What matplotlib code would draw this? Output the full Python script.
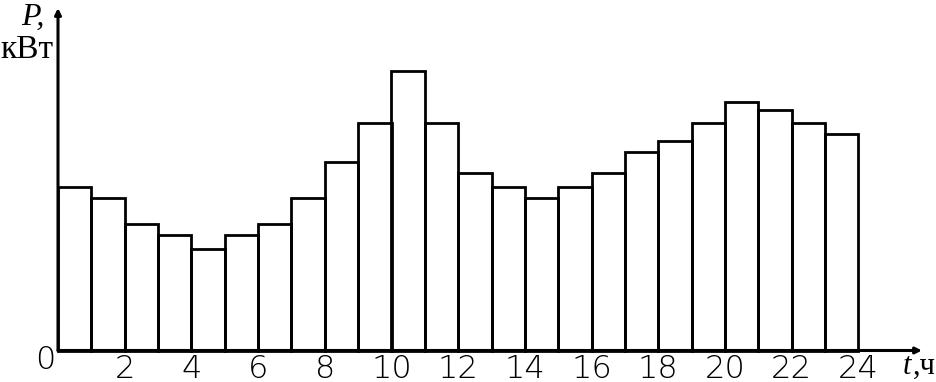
import numpy as np
import matplotlib.pyplot as plt

# почасовая нагрузка (суточный график), часы 0..23
hours = np.arange(24)
power = [16.3, 15.2, 12.7, 11.6, 10.2, 11.6, 12.7, 15.2,
         18.8, 22.7, 27.9, 22.7, 17.7, 16.3, 15.2, 16.3,
         17.7, 19.8, 20.9, 22.7, 24.8, 24.0, 22.7, 21.6]
tick_hours = [2, 4, 6, 8, 10, 12, 14, 16, 18, 20, 22, 24]

W, H = 937, 382
fig = plt.figure(figsize=(W / 100, H / 100), dpi=100)

x0_px, y0_px = 58, 350.5
px_per_hour = 33.35
px_per_unit = 10.0
xmax = (922 - x0_px) / px_per_hour
ymax = (y0_px - 8) / px_per_unit

ax = fig.add_axes([x0_px / W, (H - y0_px) / H,
                   (922 - x0_px) / W, (y0_px - 8) / H])
ax.set_xlim(0, xmax)
ax.set_ylim(0, ymax)
for s in ax.spines.values():
    s.set_visible(False)
ax.set_xticks([])
ax.set_yticks([])

ax.bar(hours, power, width=1, align='edge', fill=False,
       edgecolor='black', linewidth=2.0, clip_on=False)

# оси со стрелками
for tip in [(xmax, 0), (0, ymax)]:
    ax.annotate('', xy=tip, xytext=(0, 0),
                arrowprops=dict(arrowstyle='-|>', lw=2.2, color='black',
                                mutation_scale=9, shrinkA=0, shrinkB=0),
                annotation_clip=False)

# подписи делений
for h in tick_hours:
    ax.text(h, -18 / px_per_unit, str(h), ha='center', va='center',
            fontsize=23, family='DejaVu Sans', fontweight='light')
ax.text(-13 / px_per_hour, -9.5 / px_per_unit, '0', ha='center', va='center',
        fontsize=23, family='DejaVu Sans', fontweight='light')

# подписи осей
fig.text(21 / W, 1 - 3 / H, 'P,', ha='left', va='top',
         fontsize=23, family='Liberation Serif', style='italic')
fig.text(0, 1 - 50 / H, 'кВт', ha='left', va='center',
         fontsize=24, family='Liberation Serif')
fig.text(903 / W, 1 - 366 / H, 't', ha='left', va='center',
         fontsize=22, family='Liberation Serif', style='italic')
fig.text(913 / W, 1 - 366 / H, ',ч', ha='left', va='center',
         fontsize=22, family='Liberation Serif')

fig.savefig('out.png', dpi=100)
